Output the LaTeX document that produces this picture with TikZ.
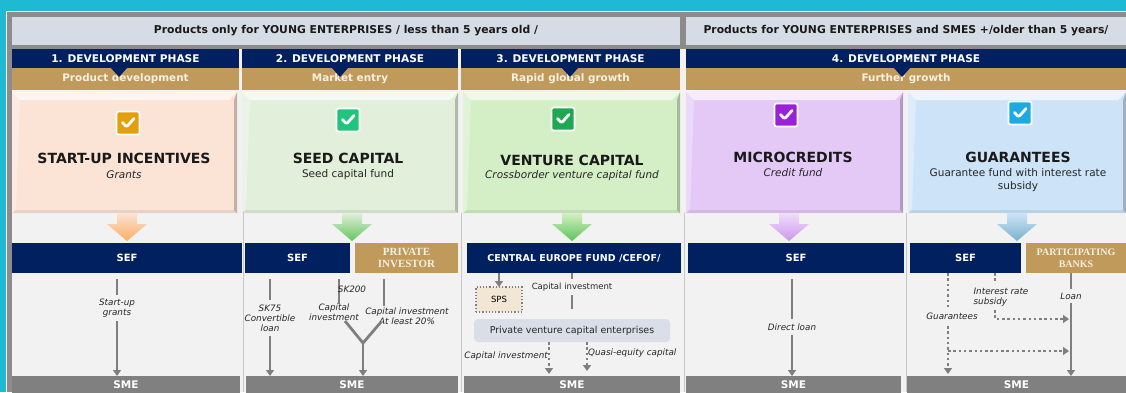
\documentclass[tikz,border=0pt]{standalone}
\usepackage{fontspec}
\setmainfont{DejaVu Sans}
\newfontfamily\tanfont{Liberation Serif}
\usetikzlibrary{arrows.meta}

\definecolor{sky}{HTML}{1EB9D3}
\definecolor{framegrey}{HTML}{8C8C8C}
\definecolor{headbg}{HTML}{D6DCE5}
\definecolor{navy}{HTML}{002060}
\definecolor{tan}{HTML}{BF9A5A}
\definecolor{cream}{HTML}{F6F0E2}
\definecolor{panel}{HTML}{F2F2F2}
\definecolor{peach}{HTML}{FBE3D6}
\definecolor{mint}{HTML}{E2EFDA}
\definecolor{leaf}{HTML}{D4EFC6}
\definecolor{lilac}{HTML}{E4C9F7}
\definecolor{ice}{HTML}{CDE4F8}
\definecolor{ckorange}{HTML}{E3A00C}
\definecolor{ckgreen}{HTML}{21C47B}
\definecolor{ckleaf}{HTML}{1EA852}
\definecolor{ckpurple}{HTML}{9A21D5}
\definecolor{ckblue}{HTML}{1DA9E1}
\definecolor{smegrey}{HTML}{808080}
\definecolor{lineg}{HTML}{7F7F7F}
\definecolor{spsbg}{HTML}{F2E7D5}
\definecolor{pvcbg}{HTML}{D9DEE8}
\definecolor{seprule}{HTML}{C8C8C8}

\tikzset{
  cell/.style={inner sep=0pt, outer sep=0pt, align=center},
  head/.style={cell, fill=headbg, minimum height=28pt, text=black!90,
    font=\bfseries\fontsize{10.8}{12}\selectfont},
  phase/.style={cell, fill=navy, minimum height=19pt, text=white,
    font=\bfseries\fontsize{10.6}{12}\selectfont},
  stage/.style={cell, fill=tan, minimum height=22pt, text=cream,
    font=\bfseries\fontsize{10.4}{12}\selectfont},
  prod/.style={cell, minimum height=121pt, path picture={
    \fill[white, opacity=.65] (path picture bounding box.north west)
      -- (path picture bounding box.north east)
      -- ([shift={(-8pt,-8pt)}]path picture bounding box.north east)
      -- ([shift={(8pt,-8pt)}]path picture bounding box.north west) -- cycle;
    \fill[white, opacity=.3] (path picture bounding box.north west)
      -- ([shift={(8pt,-8pt)}]path picture bounding box.north west)
      -- ([shift={(4pt,4pt)}]path picture bounding box.south west)
      -- (path picture bounding box.south west) -- cycle;
    \fill[black, opacity=.22] (path picture bounding box.north east)
      -- (path picture bounding box.south east)
      -- ([shift={(-3pt,3pt)}]path picture bounding box.south east)
      -- ([shift={(-3pt,-8pt)}]path picture bounding box.north east) -- cycle;
    \fill[black, opacity=.08] (path picture bounding box.south west)
      -- (path picture bounding box.south east)
      -- ([shift={(-3pt,3pt)}]path picture bounding box.south east)
      -- ([shift={(4pt,3pt)}]path picture bounding box.south west) -- cycle;
  }},
  chk/.style={cell, minimum size=23pt, fill=#1, draw=white, line width=1.8pt,
    rounded corners=2pt, path picture={
      \draw[white, line width=2.8pt, line cap=round, line join=round]
        ([shift={(-5.5pt,0.5pt)}]path picture bounding box.center)
        -- ++(4pt,-4.5pt) -- ++(7.5pt,8.5pt);
  }},
  title/.style={inner sep=0pt, text=black!90, font=\bfseries\fontsize{14}{16}\selectfont},
  sub/.style={inner sep=0pt, align=center, text=black!85, font=\fontsize{10.5}{13}\selectfont},
  subit/.style={sub, font=\itshape\fontsize{10.5}{13}\selectfont},
  navybox/.style={cell, fill=navy, minimum height=30pt, text=white,
    font=\bfseries\fontsize{10}{12}\selectfont},
  tanbox/.style={cell, fill=tan, minimum height=30pt, text=cream,
    font=\tanfont\bfseries\fontsize{11}{12.5}\selectfont},
  smebox/.style={cell, fill=smegrey, minimum height=18pt, text=white,
    font=\bfseries\fontsize{10.5}{12}\selectfont},
  lbl/.style={inner xsep=1pt, inner ysep=4pt, align=center,
    text=black!85, font=\itshape\fontsize{8.8}{10}\selectfont},
  lblup/.style={lbl, font=\fontsize{8.5}{10}\selectfont},
  conn/.style={draw=lineg, line width=2.8pt},
  dots/.style={draw=lineg, line width=2.5pt, dash pattern=on 2.5pt off 2.8pt},
  gap/.style={shorten <=6pt},
  arr/.style={-{Triangle[length=6pt,width=8pt]}},
  sep/.style={draw=seprule, line width=1pt}
}

\begin{document}
\begin{tikzpicture}[x=1pt,y=-1pt]
  \useasboundingbox (0,0) rectangle (1126,392);
  \fill[sky] (0,0) rectangle (1126,392);
  \fill[white] (6,11) rectangle (1126,392);
  \fill[framegrey] (7,12) rectangle (1126,392);
  \fill[panel] (12,49) rectangle (1126,392);

  \node[head, minimum width=668pt] (young) at (346,31) {Products only for YOUNG ENTERPRISES / less than 5 years old /};
  \node[head, minimum width=440pt] (older) at (906,31) {Products for YOUNG ENTERPRISES and SMES +/older than 5 years/};

  \node[phase, minimum width=227pt] (ph1) at (125.5,58.5) {1. DEVELOPMENT PHASE};
  \node[phase, minimum width=216pt] (ph2) at (350,58.5) {2. DEVELOPMENT PHASE};
  \node[phase, minimum width=219pt] (ph3) at (570.5,58.5) {3. DEVELOPMENT PHASE};
  \node[phase, minimum width=440pt] (ph4) at (906,58.5) {4. DEVELOPMENT PHASE};
  \node[stage, minimum width=227pt] (st1) at (125.5,79) {Product development};
  \node[stage, minimum width=216pt] (st2) at (350,79) {Market entry};
  \node[stage, minimum width=219pt] (st3) at (570.5,79) {Rapid global growth};
  \node[stage, minimum width=440pt] (st4) at (906,79) {Further growth};
  \fill[navy] (111,68) -- (127,68) -- (119,77) -- cycle;
  \fill[navy] (332,68) -- (348,68) -- (340,77) -- cycle;
  \fill[navy] (562,68) -- (578,68) -- (570,77) -- cycle;
  \fill[navy] (894,68) -- (910,68) -- (902,77) -- cycle;

  \draw[sep] (243.5,213) -- (243.5,392);
  \draw[sep] (461.5,213) -- (461.5,392);
  \draw[sep] (684.5,213) -- (684.5,392);
  \draw[sep] (906.5,213) -- (906.5,392);

  \node[prod, fill=peach, minimum width=225pt] (p1) at (124.5,152.5) {};
  \node[prod, fill=mint, minimum width=216pt] (p2) at (350,152.5) {};
  \node[prod, fill=leaf, minimum width=217pt] (p3) at (571.5,152.5) {};
  \node[prod, fill=lilac, minimum width=217pt] (p4) at (794.5,152.5) {};
  \node[prod, fill=ice, minimum width=218pt] (p5) at (1017,152.5) {};

  \node[chk=ckorange] (c1) at (128,123) {};
  \node[chk=ckgreen] (c2) at (348,120) {};
  \node[chk=ckleaf] (c3) at (563,119) {};
  \node[chk=ckpurple] (c4) at (786,115) {};
  \node[chk=ckblue] (c5) at (1020,113) {};

  \node[title] (t1) at (124,158) {START-UP INCENTIVES};
  \node[subit] (s1) at (124,175) {Grants};
  \node[title] (t2) at (348,158) {SEED CAPITAL};
  \node[sub] (s2) at (348,175) {Seed capital fund};
  \node[title] (t3) at (572,160) {VENTURE CAPITAL};
  \node[subit] (s3) at (572,176) {Crossborder venture capital fund};
  \node[title] (t4) at (793,157) {MICROCREDITS};
  \node[subit] (s4) at (793,173) {Credit fund};
  \node[title] (t5) at (1018,157) {GUARANTEES};
  \node[sub] (s5) at (1018,180) {Guarantee fund with interest rate\\subsidy};

  \shade[top color=peach, bottom color=orange!55!peach] (127,213) ++(-10,0) -- ++(20,0) -- ++(0,11) -- ++(10,0) -- ++(-20,17) -- ++(-20,-17) -- ++(10,0) -- cycle;
  \shade[top color=mint, bottom color=green!45!mint!80!black] (352,213) ++(-10,0) -- ++(20,0) -- ++(0,11) -- ++(10,0) -- ++(-20,17) -- ++(-20,-17) -- ++(10,0) -- cycle;
  \shade[top color=leaf, bottom color=green!45!leaf!80!black] (572,213) ++(-10,0) -- ++(20,0) -- ++(0,11) -- ++(10,0) -- ++(-20,17) -- ++(-20,-17) -- ++(10,0) -- cycle;
  \shade[top color=lilac!60, bottom color=ckpurple!30!lilac] (789,213) ++(-10,0) -- ++(20,0) -- ++(0,11) -- ++(10,0) -- ++(-20,17) -- ++(-20,-17) -- ++(10,0) -- cycle;
  \shade[top color=ice, bottom color=ckblue!35!ice!85!black] (1017,213) ++(-10,0) -- ++(20,0) -- ++(0,11) -- ++(10,0) -- ++(-20,17) -- ++(-20,-17) -- ++(10,0) -- cycle;

  \node[navybox, minimum width=230pt] (sef1) at (127,258) {SEF};
  \node[navybox, minimum width=105pt] (sef2) at (297.5,258) {SEF};
  \node[tanbox, minimum width=103pt] (pinv) at (406.5,258) {PRIVATE\\INVESTOR};
  \node[navybox, minimum width=214pt, font=\bfseries\fontsize{9.5}{12}\selectfont] (cefof) at (574,258) {CENTRAL EUROPE FUND /CEFOF/};
  \node[navybox, minimum width=216pt] (sef4) at (796,258) {SEF};
  \node[navybox, minimum width=111pt] (sef5) at (965.5,258) {SEF};
  \node[tanbox, minimum width=100pt, font=\tanfont\bfseries\fontsize{10}{12}\selectfont] (banks) at (1076,258) {PARTICIPATING\\BANKS};

  \node[smebox, minimum width=228pt] (sme1) at (126,385) {SME};
  \node[smebox, minimum width=212pt] (sme2) at (352,385) {SME};
  \node[smebox, minimum width=216pt] (sme3) at (572,385) {SME};
  \node[smebox, minimum width=215pt] (sme4) at (793.5,385) {SME};
  \node[smebox, minimum width=219pt] (sme5) at (1016.5,385) {SME};

  \node[lbl] (grants) at (117,308) {Start-up\\grants};
  \draw[conn,gap] (grants |- sef1.south) -- (grants.north);
  \draw[conn,arr] (grants.south) -- (grants |- sme1.north);

  \node[lbl] (sk75) at (270,318) {SK75\\Convertible\\loan};
  \draw[conn,gap] (sk75 |- sef2.south) -- (sk75.north);
  \draw[conn,arr] (sk75.south) -- (sk75 |- sme2.north);
  \coordinate (cl) at (339,304);
  \coordinate (cr) at (384,306);
  \coordinate (yl) at (345,321);
  \coordinate (yr) at (381,322);
  \coordinate (fork) at (363,343);
  \draw[conn,gap] (cl |- sef2.south) -- (cl);
  \draw[conn,gap] (cr |- pinv.south) -- (cr);
  \node[lbl] (capl) at (334,312) {Capital\\investment};
  \node[lbl] (sk200) at (352,289) {SK200};
  \node[lbl] (capr) at (407,316) {Capital investment\\At least 20\%};
  \draw[conn] (yl) -- (fork) -- (yr);
  \draw[conn,arr] (fork) -- (fork |- sme2.north);

  \node[cell, draw=lineg, dotted, line width=1.2pt, fill=spsbg, minimum width=46pt, minimum height=25pt,
    font=\fontsize{8.5}{10}\selectfont] (sps) at (499,299.5) {SPS};
  \draw[conn,arr] (sps |- cefof.south) -- (sps.north);
  \node[lblup] (ci3) at (572,287) {Capital investment};
  \draw[conn] (ci3 |- cefof.south) -- (ci3.north);
  \node[cell, fill=pvcbg, rounded corners=4pt, minimum width=196pt, minimum height=23pt,
    text=black!85, font=\fontsize{9.5}{11}\selectfont] (pvc) at (572,330.5) {Private venture capital enterprises};
  \draw[conn, shorten >=10pt] (ci3.south) -- (ci3 |- pvc.north);
  \node[lbl, anchor=east] (ci3b) at (549,356) {Capital investment};
  \node[lbl, anchor=west] (qe) at (587,353) {Quasi-equity capital};
  \draw[dots,arr,shorten >=2pt] (ci3b.east |- pvc.south) -- (ci3b.east |- sme3.north);
  \draw[dots,arr,shorten >=5pt] (qe.west |- pvc.south) -- (qe.west |- sme3.north);

  \node[lbl] (direct) at (792,327) {Direct loan};
  \draw[conn,gap] (direct |- sef4.south) -- (direct.north);
  \draw[conn,arr] (direct.south) -- (direct |- sme4.north);

  \coordinate (irc) at (995,319);
  \coordinate (gj) at (948,351);
  \node[lbl] (loanl) at (1071,296) {Loan};
  \draw[conn] (loanl |- banks.south) -- (loanl.north);
  \draw[conn,arr] (loanl.south) -- (loanl |- sme5.north);
  \draw[dots,arr,shorten >=2pt] (gj |- sef5.south) -- (gj |- sme5.north);
  \draw[dots,arr,shorten >=2pt] (gj) -- (gj -| loanl);
  \draw[dots,arr,shorten >=2pt] (irc |- sef5.south) -- (irc) -- (irc -| loanl);
  \node[lbl, fill=panel] (guar) at (952,316) {Guarantees};
  \node[lbl, fill=panel, align=left] (irs) at (1001,297) {Interest rate\\subsidy};
\end{tikzpicture}
\end{document}
